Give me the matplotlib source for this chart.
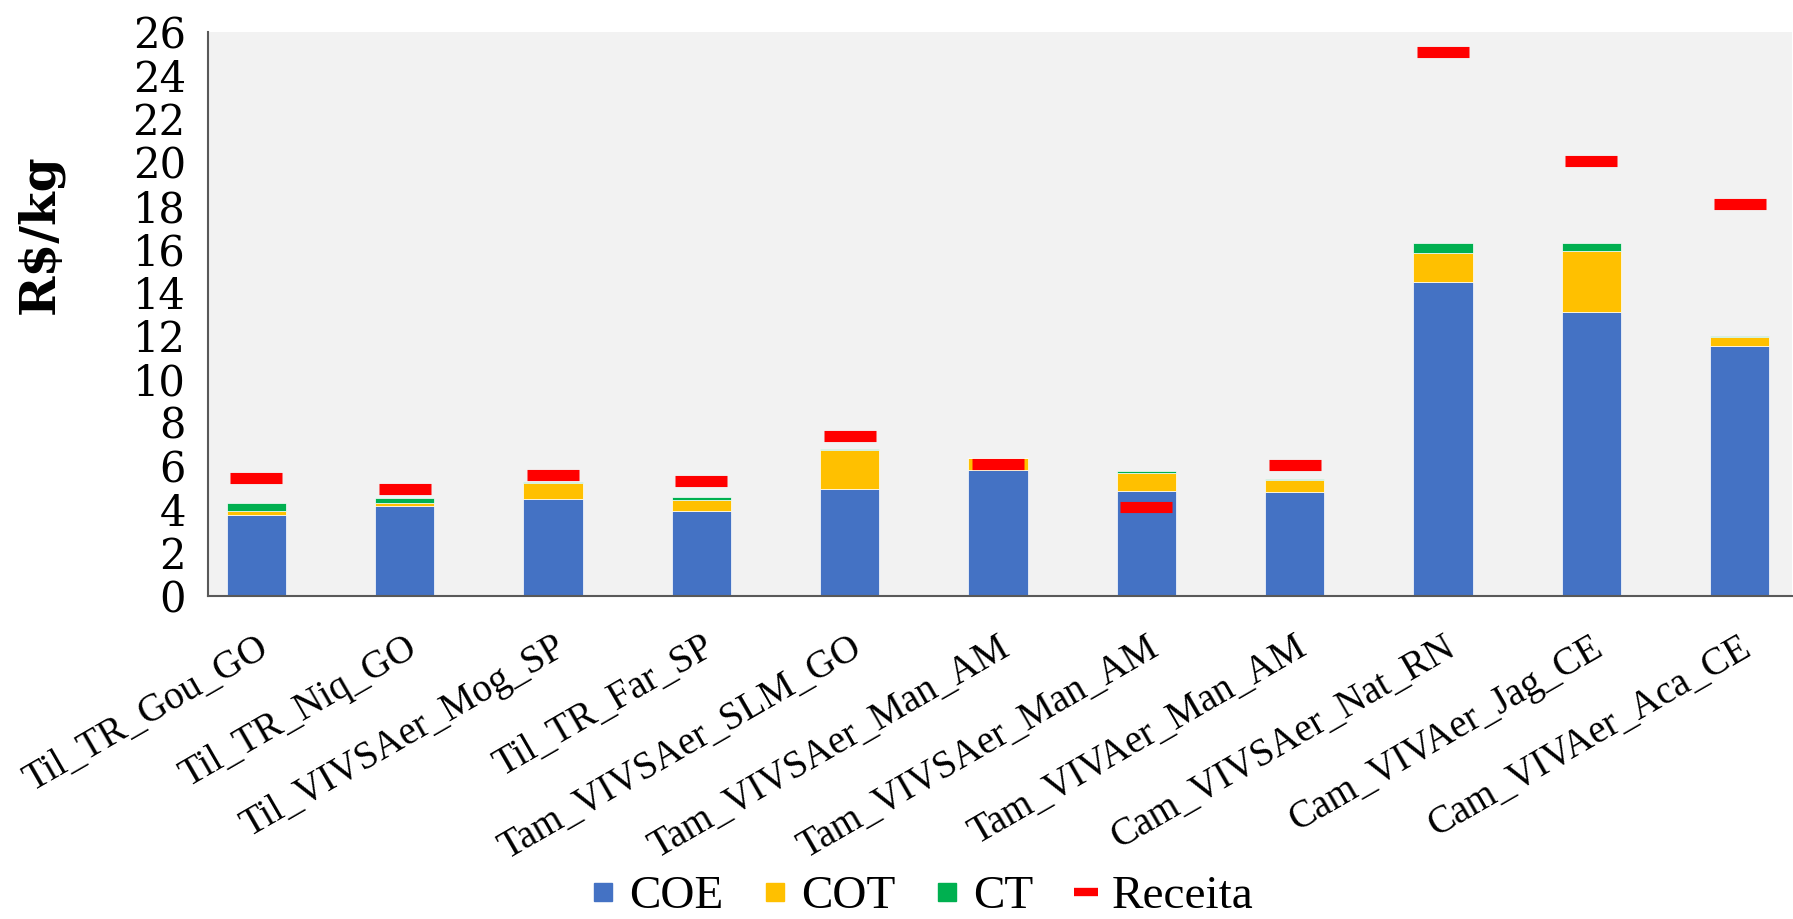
import matplotlib.pyplot as plt
import numpy as np
from matplotlib.lines import Line2D

# values (R$/kg)
sistemas = ['Til_TR_Gou_GO', 'Til_TR_Niq_GO', 'Til_VIVSAer_Mog_SP', 'Til_TR_Far_SP',
            'Tam_VIVSAer_SLM_GO', 'Tam_VIVSAer_Man_AM', 'Tam_VIVSAer_Man_AM',
            'Tam_VIVAer_Man_AM', 'Cam_VIVSAer_Nat_RN', 'Cam_VIVAer_Jag_CE', 'Cam_VIVAer_Aca_CE']
coe = [3.74, 4.14, 4.45, 3.92, 4.92, 5.82, 4.82, 4.80, 14.47, 13.09, 11.54]
cot = [0.20, 0.15, 0.78, 0.51, 1.82, 0.52, 0.87, 0.56, 1.33, 2.81, 0.40]
ct = [0.35, 0.21, 0.02, 0.12, 0.05, 0.04, 0.06, 0.03, 0.50, 0.40, 0.04]
receita = [5.43, 4.92, 5.60, 5.32, 7.38, 6.08, 4.08, 6.03, 25.10, 20.05, 18.06]

c_coe = '#4472C4'
c_cot = '#FFC000'
c_ct = '#00B050'
c_rec = '#FF0000'

fig = plt.figure(figsize=(17.93, 9.19), dpi=100)
ax = fig.add_axes([0.116, 0.3515, 0.8835, 0.6135])
ax.set_facecolor('#F2F2F2')

x = np.arange(len(sistemas))
w = 0.4
coe_a = np.array(coe)
cot_a = np.array(cot)
ax.bar(x, coe, w, color=c_coe, edgecolor='white', linewidth=0.5, zorder=2)
ax.bar(x, cot, w, bottom=coe_a, color=c_cot, edgecolor='white', linewidth=0.5, zorder=2)
ax.bar(x, ct, w, bottom=coe_a + cot_a, color=c_ct, edgecolor='white', linewidth=0.5, zorder=2)
ax.plot(x, receita, ls='none', marker='_', ms=38, mew=8, color=c_rec, zorder=3)

ax.set_xlim(-0.327, 10.354)
ax.set_ylim(0, 26)
ax.set_yticks(np.arange(0, 27, 2))
ax.set_yticklabels([str(v) for v in range(0, 27, 2)], family='DejaVu Serif', fontsize=30)
ax.set_xticks(x)
ax.set_xticklabels(sistemas, rotation=30, ha='right', rotation_mode='anchor',
                   family='Liberation Serif', fontsize=28)
ax.tick_params(axis='y', length=0, pad=16)
ax.tick_params(axis='x', length=0, pad=24)

for s in ['top', 'right']:
    ax.spines[s].set_visible(False)
for s in ['left', 'bottom']:
    ax.spines[s].set_color('#595959')
    ax.spines[s].set_linewidth(1.5)

fig.text(0.0223, 0.745, 'R\\$/kg', rotation=90, ha='center', va='center',
         family='DejaVu Serif', fontweight='bold', fontsize=35)

handles = [Line2D([], [], ls='none', marker='s', ms=13, color=c_coe),
           Line2D([], [], ls='none', marker='s', ms=13, color=c_cot),
           Line2D([], [], ls='none', marker='s', ms=13, color=c_ct),
           Line2D([], [], ls='none', marker='_', ms=17, mew=6, color=c_rec)]
fig.legend(handles, ['COE', 'COT', 'CT', 'Receita'], loc='center', bbox_to_anchor=(0.515, 0.024),
           ncol=4, frameon=False, prop={'family': 'Liberation Serif', 'size': 34},
           handlelength=0.4, handletextpad=0.35, columnspacing=0.9, borderpad=0)

fig.savefig('out.png', dpi=100)
